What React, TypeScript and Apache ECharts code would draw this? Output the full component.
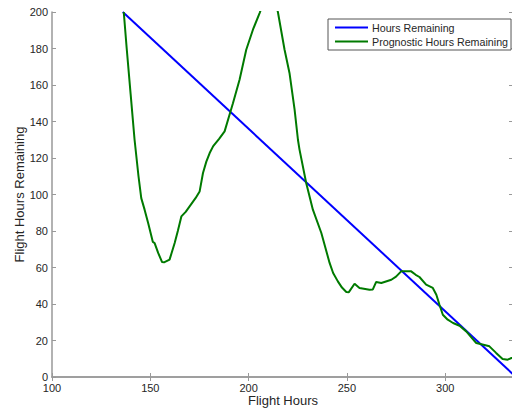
import React, { useEffect, useRef } from "react";
import * as echarts from "echarts";

const hoursRemaining: [number, number][] = [
  [136, 200],
  [336, 0],
];

const prognosticHoursRemaining: [number, number][] = [
  [136.5, 200], [138, 180], [140, 155], [142, 130], [144, 110], [145.4, 98],
  [147.1, 91.7], [149, 84], [151.3, 74], [152.2, 73.4], [154, 68], [156, 63],
  [157, 62.8], [159.8, 64.3], [162.4, 73.4], [164, 80], [165.8, 88], [168, 90.5],
  [170, 93.5], [173, 98], [175.1, 101.7], [176.8, 111.8], [178.5, 118], [180.2, 122.7],
  [182, 126.5], [185, 130.5], [187.8, 134.6], [190.3, 143.7], [192, 149.9], [195.4, 162.9],
  [198.8, 179.3], [202.2, 190.3], [205.6, 199.4], [207.5, 205], [210, 212], [213, 208],
  [214.9, 200], [218.3, 179.3], [220.8, 166.6], [223.4, 146.5], [225.1, 130], [225.9, 124.6],
  [229.3, 106.3], [232.7, 91.7], [237, 78.9], [241.2, 62.5], [243, 57], [245.4, 52.4],
  [247.5, 49], [249.7, 46.6], [251, 46.5], [253.9, 51.1], [256.4, 48.8], [261.5, 47.8],
  [263.2, 48], [264.9, 52.1], [267.5, 51.5], [272.6, 53.3], [275, 55], [277.6, 57.9],
  [282.7, 57.9], [285, 56], [286.9, 54.8], [290.3, 50.6], [293.7, 48.8], [295.5, 45.1],
  [297.1, 39.6], [298.8, 34.1], [301.3, 31.4], [304, 29.6], [307.3, 28.1], [310.7, 25],
  [315.8, 18.6], [320, 17.5], [322.5, 16.8], [325.9, 13.2], [329.2, 9.9], [331.8, 9.5],
  [333.7, 10.4], [335, 10.5],
];

const xTicks = [100, 150, 200, 250, 300];
const yTicks = [0, 20, 40, 60, 80, 100, 120, 140, 160, 180, 200];

const FONT = "'Liberation Sans', Arial, sans-serif";
const AXIS_COLOR = "#999999";
const TEXT_COLOR = "#262626";

export default function App() {
  const ref = useRef<HTMLDivElement>(null);
  useEffect(() => {
    if (!ref.current) return;
    const chart = echarts.init(ref.current, undefined, { renderer: "svg" });
    const axisLine = { show: true, lineStyle: { color: AXIS_COLOR, width: 1.5 } };
    const tickStyle = { color: AXIS_COLOR };
    chart.setOption({
      animation: false,
      backgroundColor: "#ffffff",
      grid: { left: 52, top: 12, width: 462, height: 365, containLabel: false, outerBoundsMode: "none" },
      legend: {
        orient: "vertical",
        left: 328,
        top: 19,
        itemWidth: 33,
        itemHeight: 2,
        itemGap: 1,
        padding: [2, 3, 2, 7],
        borderColor: "#555",
        borderWidth: 1,
        backgroundColor: "#fff",
        textStyle: { fontFamily: FONT, fontSize: 10.7, color: TEXT_COLOR, lineHeight: 13, padding: [0, 0, 0, -1] },
        data: [
          { name: "Hours Remaining", icon: "rect" },
          { name: "Prognostic Hours Remaining", icon: "rect" },
        ],
        itemStyle: { borderWidth: 0 },
      },
      xAxis: [
        {
          type: "value",
          min: 100,
          max: 335,
          interval: 50,
          name: "Flight Hours",
          nameLocation: "middle",
          nameGap: 17,
          nameMoveOverlap: false,
          nameTextStyle: { fontFamily: FONT, fontSize: 13, color: TEXT_COLOR },
          axisLine,
          axisTick: { show: true, inside: true, length: 4, lineStyle: tickStyle, customValues: xTicks },
          splitLine: { show: false },
          axisLabel: { fontFamily: FONT, fontSize: 11, color: TEXT_COLOR, margin: 5, customValues: xTicks },
        },
        {
          type: "value",
          position: "top",
          min: 100,
          max: 335,
          interval: 50,
          axisLine,
          axisTick: { show: true, inside: true, length: 4, lineStyle: tickStyle, customValues: xTicks },
          axisLabel: { show: false },
          splitLine: { show: false },
        },
      ],
      yAxis: [
        {
          type: "value",
          min: 0,
          max: 200,
          interval: 20,
          name: "Flight Hours Remaining",
          nameLocation: "middle",
          nameGap: 26,
          nameMoveOverlap: false,
          nameTextStyle: { fontFamily: FONT, fontSize: 13, color: TEXT_COLOR },
          axisLine,
          axisTick: { show: true, inside: true, length: 4, lineStyle: tickStyle },
          splitLine: { show: false },
          axisLabel: { fontFamily: FONT, fontSize: 11, color: TEXT_COLOR, margin: 4, customValues: yTicks },
        },
        {
          type: "value",
          position: "right",
          min: 0,
          max: 200,
          interval: 20,
          axisLine,
          axisTick: { show: true, inside: true, length: 5, lineStyle: tickStyle },
          axisLabel: { show: false },
          splitLine: { show: false },
        },
      ],
      series: [
        {
          name: "Hours Remaining",
          type: "line",
          data: hoursRemaining,
          showSymbol: false,
          symbol: "none",
          color: "#0000ff",
          lineStyle: { color: "#0000ff", width: 2 },
          clip: true,
        },
        {
          name: "Prognostic Hours Remaining",
          type: "line",
          data: prognosticHoursRemaining,
          showSymbol: false,
          symbol: "none",
          color: "#007a00",
          lineStyle: { color: "#007a00", width: 2 },
          clip: true,
        },
      ],
    });
    return () => chart.dispose();
  }, []);
  return <div ref={ref} style={{ width: 512, height: 409, position: "absolute", left: 0, top: 0 }} />;
}
